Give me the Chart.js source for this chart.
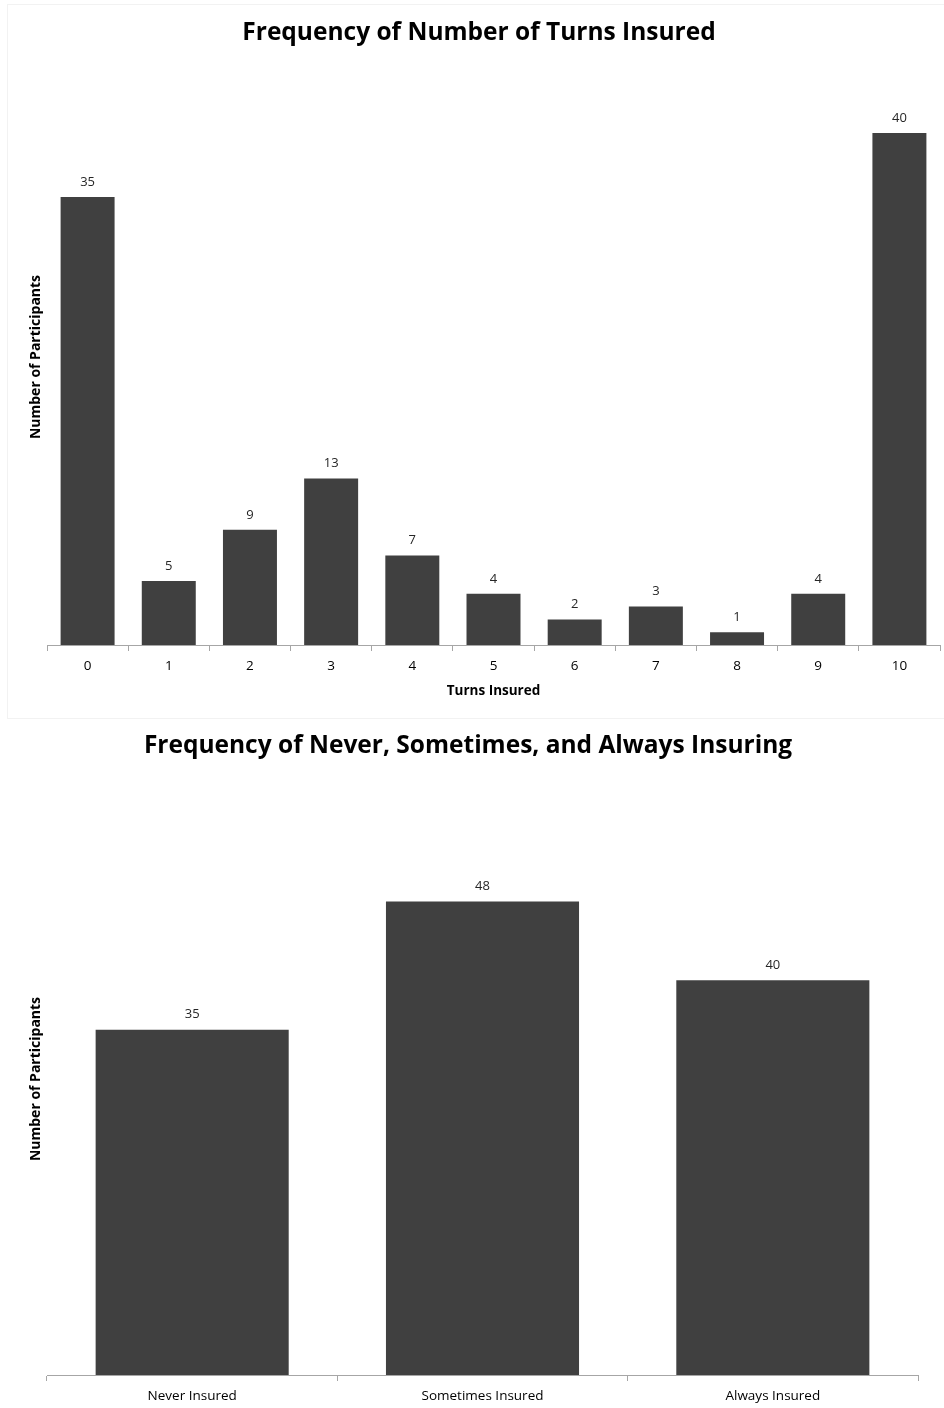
<!DOCTYPE html>
<html>
<head>
<meta charset="utf-8">
<script src="https://cdn.jsdelivr.net/npm/chart.js@4/dist/chart.umd.min.js"></script>
<style>
  html, body { margin: 0; padding: 0; background: #fff; }
  #wrap { position: relative; width: 944px; height: 1408px; overflow: hidden; }
  .panel { position: absolute; left: 0; width: 944px; }
  #p1 { top: 0; height: 718px; }
  #p2 { top: 718px; height: 690px; }
  .frame { position: absolute; border: 1px solid #f2f2f2; }
</style>
</head>
<body>
<div id="wrap">
  <div class="frame" style="left:7px; top:4px; width:960px; height:713px;"></div>
  <div class="panel" id="p1"><canvas id="turnsChart"></canvas></div>
  <div class="panel" id="p2"><canvas id="groupChart"></canvas></div>
</div>
<script>
// Participants by number of insured turns (0–10)
const turnCategories = ['0', '1', '2', '3', '4', '5', '6', '7', '8', '9', '10'];
const turnCounts = [35, 5, 9, 13, 7, 4, 2, 3, 1, 4, 40];
const turnAxisMax = 45;

// Participants grouped by insuring behaviour
const groupCategories = ['Never Insured', 'Sometimes Insured', 'Always Insured'];
const groupCounts = [35, 48, 40];
const groupAxisMax = 60;

const BAR_COLOR = '#404040';
const AXIS_COLOR = '#a6a6a6';
const FONT = '"Open Sans", "DejaVu Sans", sans-serif';

Chart.defaults.font.family = FONT;
Chart.defaults.color = '#000';

// Writes each bar's value just above it
const valueLabels = {
  id: 'valueLabels',
  afterDatasetsDraw(chart) {
    const ctx = chart.ctx;
    chart.data.datasets.forEach((ds, i) => {
      chart.getDatasetMeta(i).data.forEach((bar, j) => {
        ctx.save();
        ctx.font = '13px ' + FONT;
        ctx.fillStyle = '#262626';
        ctx.textAlign = 'center';
        ctx.textBaseline = 'middle';
        ctx.fillText(String(ds.data[j]), bar.x, bar.y - 15);
        ctx.restore();
      });
    });
  }
};

function barChart(canvasId, cfg) {
  return new Chart(document.getElementById(canvasId), {
    type: 'bar',
    data: {
      labels: cfg.labels,
      datasets: [{
        data: cfg.values,
        backgroundColor: BAR_COLOR,
        borderWidth: 0,
        categoryPercentage: 1,
        barPercentage: 0.665
      }]
    },
    plugins: [valueLabels],
    options: {
      responsive: true,
      maintainAspectRatio: false,
      devicePixelRatio: 1,
      animation: false,
      layout: { padding: { left: 18, right: cfg.rightPad, top: 0, bottom: 0 } },
      plugins: {
        legend: { display: false },
        tooltip: { enabled: false },
        title: {
          display: true,
          text: cfg.title,
          color: '#000',
          font: { size: 24.5, weight: 'bold', family: FONT },
          padding: cfg.titlePad
        }
      },
      scales: {
        x: {
          grid: {
            display: true,
            drawOnChartArea: false,
            drawTicks: true,
            tickLength: 6,
            color: AXIS_COLOR,
            tickColor: AXIS_COLOR,
            offset: true
          },
          border: { display: true, color: AXIS_COLOR },
          ticks: { color: '#000', font: { size: 13.5 }, padding: cfg.tickPad, maxRotation: 0 },
          title: cfg.xTitle ? {
            display: true,
            text: cfg.xTitle,
            color: '#000',
            font: { size: 13.5, weight: 'bold' },
            padding: { top: 2, bottom: 19 }
          } : { display: false },
          afterFit(scale) { scale.height = cfg.xHeight; }
        },
        y: {
          min: 0,
          max: cfg.max,
          grid: { display: false },
          border: { display: false },
          ticks: { display: false },
          title: {
            display: true,
            text: 'Number of Participants',
            color: '#000',
            font: { size: 14, weight: 'bold' },
            padding: { top: 9.6, bottom: 0 }
          },
          afterFit(scale) { scale.width = 29; }
        }
      }
    }
  });
}

barChart('turnsChart', {
  labels: turnCategories,
  values: turnCounts,
  max: turnAxisMax,
  title: 'Frequency of Number of Turns Insured',
  titlePad: { top: 18.3, bottom: 21.3 },
  xTitle: 'Turns Insured',
  xHeight: 73,
  tickPad: 7,
  rightPad: 4
});

barChart('groupChart', {
  labels: groupCategories,
  values: groupCounts,
  max: groupAxisMax,
  title: 'Frequency of Never, Sometimes, and Always Insuring',
  titlePad: { top: 13.3, bottom: 22.3 },
  xTitle: null,
  xHeight: 33,
  tickPad: 7.5,
  rightPad: 26
});
</script>
</body>
</html>
